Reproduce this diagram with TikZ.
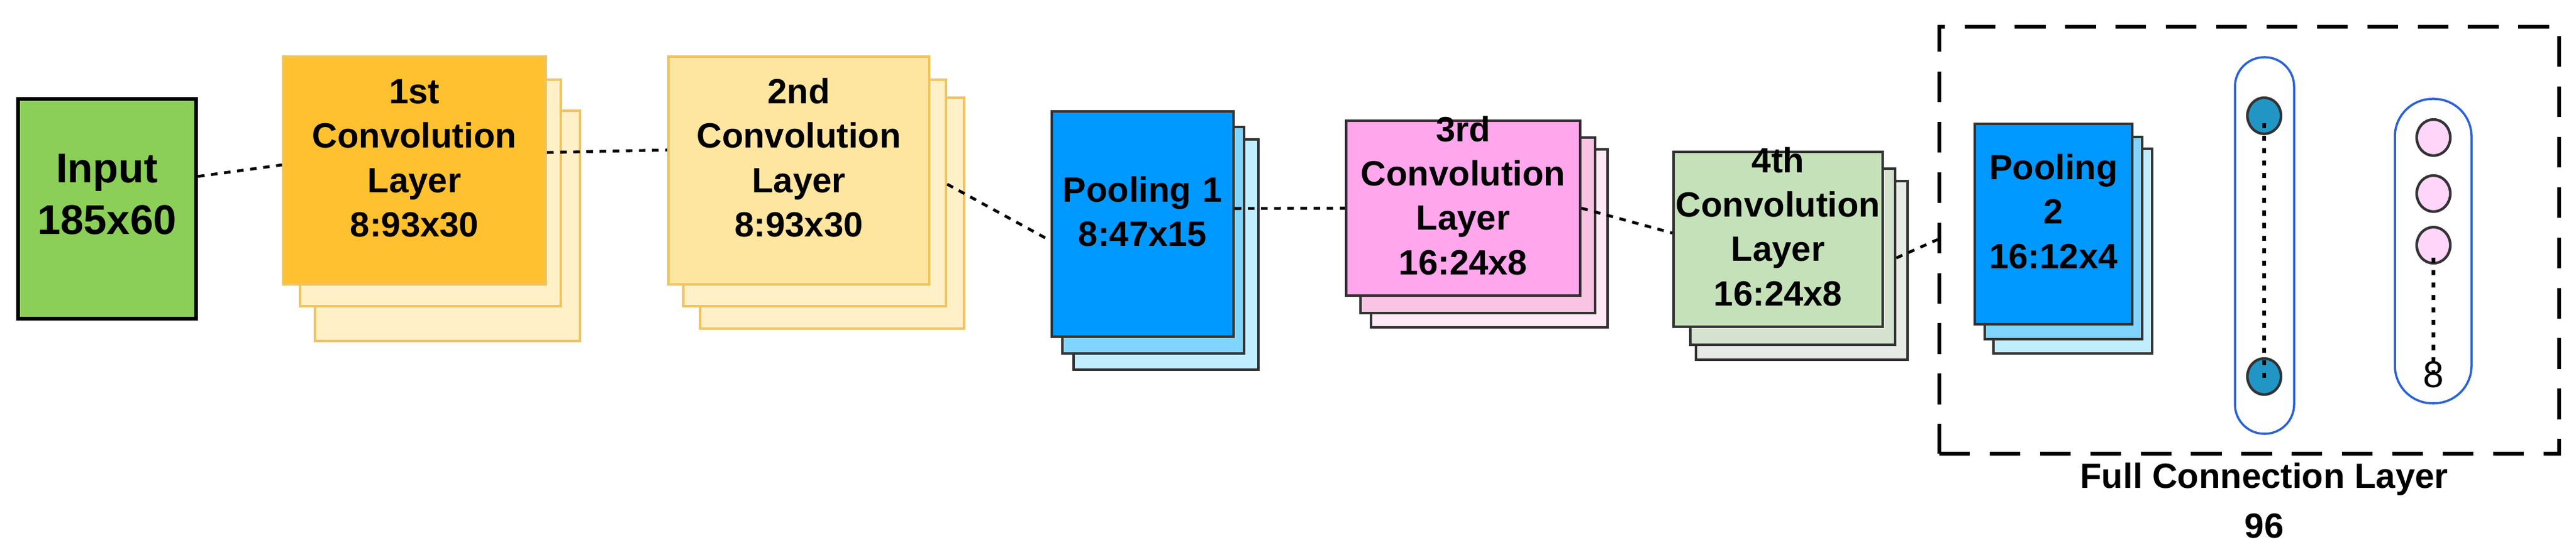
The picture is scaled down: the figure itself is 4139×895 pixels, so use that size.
\documentclass[tikz,border=0pt]{standalone}
\usepackage{fontspec}
\setmainfont{Liberation Sans}
\usetikzlibrary{fit,calc,shapes.geometric}
\definecolor{dk}{HTML}{333333}
\definecolor{orb}{HTML}{EFC460}
\definecolor{capb}{HTML}{2B62D6}
\tikzset{
 lay/.style={fit={#1},inner sep=0pt,draw=dk,line width=1.1pt,align=center,font=\bfseries\fontsize{16}{20.3}\selectfont},
 olay/.style={lay={#1},draw=orb},
 conn/.style={line width=1.3pt,dash pattern=on 3pt off 3pt},
 dots/.style={line width=1.7pt,dash pattern=on 2.3pt off 3.4pt},
 neu/.style={ellipse,draw=dk,line width=1.2pt,minimum width=0.54cm,minimum height=0.58cm,inner sep=0pt},
 cap/.style={draw=capb,line width=1pt,rounded corners=#1}
}
\begin{document}
\begin{tikzpicture}[x=0.01cm,y=-0.01cm]
\useasboundingbox (0,0) rectangle (4139,895);
% input
\node[lay={(29,159)(315,512)},fill={rgb,255:red,139;green,207;blue,88},draw=black,line width=1.8pt,font=\bfseries\fontsize{19}{23.5}\selectfont] (in) {Input\\185x60};
% conv1
\node[olay={(506,178)(932,548)},fill={rgb,255:red,255;green,240;blue,200}] (c1b) {};
\node[olay={(482,128)(901,492)},fill={rgb,255:red,255;green,240;blue,200}] (c1a) {};
\node[olay={(455,91)(877,457)},fill={rgb,255:red,255;green,193;blue,47}] (c1) {1st\\Convolution\\Layer\\8:93x30};
% conv2
\node[olay={(1125,157)(1549,528)},fill={rgb,255:red,255;green,240;blue,200}] (c2b) {};
\node[olay={(1098,128)(1520,492)},fill={rgb,255:red,255;green,240;blue,200}] (c2a) {};
\node[olay={(1074,91)(1493,457)},fill={rgb,255:red,255;green,230;blue,160}] (c2) {2nd\\Convolution\\Layer\\8:93x30};
% pool1
\node[lay={(1725,224)(2022,594)},fill={rgb,255:red,192;green,238;blue,255}] (p1b) {};
\node[lay={(1707,204)(1999,568)},fill={rgb,255:red,128;green,212;blue,255}] (p1a) {};
\node[lay={(1690,179)(1982,541)},fill={rgb,255:red,0;green,153;blue,255}] (p1) {Pooling 1\\8:47x15};
% conv3
\node[lay={(2203,240)(2583,526)},fill={rgb,255:red,255;green,233;blue,246}] (c3b) {};
\node[lay={(2186,221)(2563,503)},fill={rgb,255:red,249;green,196;blue,228}] (c3a) {};
\node[lay={(2163,194)(2539,475)},fill={rgb,255:red,255;green,166;blue,236}] (c3) {3rd\\Convolution\\Layer\\16:24x8};
% conv4
\node[lay={(2725,291)(3065,578)},fill={rgb,255:red,230;green,235;blue,229}] (c4b) {};
\node[lay={(2716,271)(3045,554)},fill={rgb,255:red,213;green,226;blue,208}] (c4a) {};
\node[lay={(2689,244)(3025,525)},fill={rgb,255:red,197;green,225;blue,185}] (c4) {4th\\Convolution\\Layer\\16:24x8};
% full connection box
\node[fit={(3116,43)(4112,729)},inner sep=0pt,draw=black,line width=1.6pt,dash pattern=on 14pt off 9pt] (fc) {};
% pool2
\node[lay={(3203,239)(3458,568)},fill={rgb,255:red,192;green,238;blue,255}] (p2b) {};
\node[lay={(3189,220)(3442,545)},fill={rgb,255:red,128;green,212;blue,255}] (p2a) {};
\node[lay={(3173,199)(3426,521)},fill={rgb,255:red,0;green,153;blue,255}] (p2) {Pooling 2\\16:12x4};
% capsules
\draw[cap=0.47cm] (3591,92) rectangle (3686,697);
\draw[cap=0.6cm] (3848,159) rectangle (3971,648);
\node[neu,fill={rgb,255:red,33;green,150;blue,196}] (n1) at (3638,186) {};
\node[neu,fill={rgb,255:red,33;green,150;blue,196}] (n2) at (3638,605) {};
\node[neu,fill={rgb,255:red,255;green,214;blue,250}] (m1) at (3910,221) {};
\node[neu,fill={rgb,255:red,255;green,214;blue,250}] (m2) at (3910,311) {};
\node[neu,fill={rgb,255:red,255;green,214;blue,250}] (m3) at (3910,394) {};
\node[font=\fontsize{17}{20}\selectfont] (m8) at (3910,602) {8};
\draw[dots] ($(n1.south)+(0,-19)$) -- ($(n2.north)+(0,39)$);
\draw[dots] ($(m3.south)+(0,-11)$) -- ($(m8.north)+(0,32)$);
% labels
\node[font=\bfseries\fontsize{16}{20}\selectfont] (fcl) at (3638,770) {Full Connection Layer};
\node[font=\bfseries\fontsize{16}{20}\selectfont] (fcn) at (3638,845) {96};
% connectors
\draw[conn] ($(in.east)+(0,-52)$) -- ($(c1.west)+(0,-9)$);
\draw[conn] ($(c1.east)+(0,-29)$) -- ($(c2.west)+(0,-33)$);
\draw[conn] ($(c2a.east)+(0,-14)$) -- ($(p1.west)+(0,27)$);
\draw[conn] ($(p1.east)+(0,-25)$) -- (c3.west);
\draw[conn] (c3.east) -- ($(c4.west)+(0,-10)$);
\draw[conn] ($(c4a.east)+(0,2)$) -- ($(fc.west)+(0,-1)$);
\end{tikzpicture}
\end{document}
